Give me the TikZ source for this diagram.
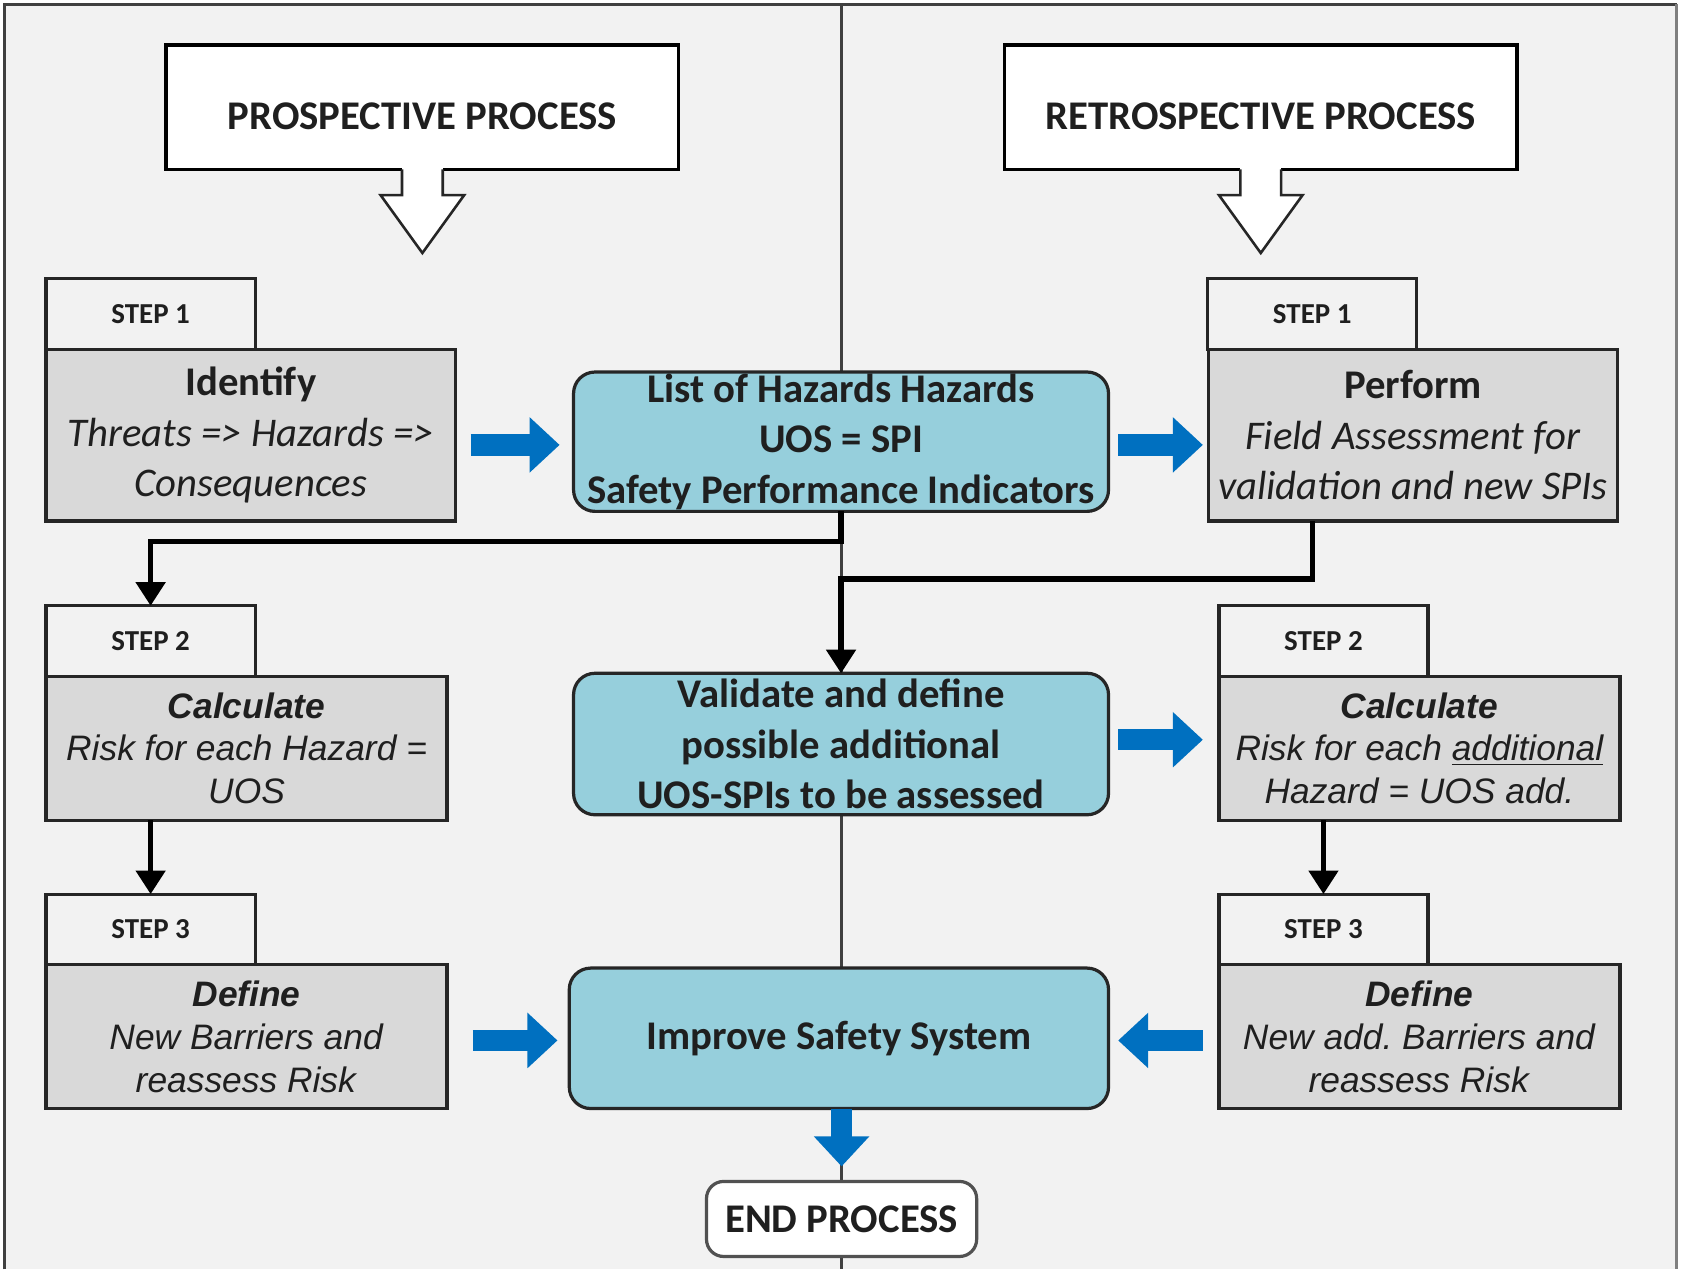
\documentclass[tikz,border=0pt]{standalone}
\usepackage{fontspec}
\setmainfont{Carlito}
\newfontfamily\arialfont{Liberation Sans}
\usetikzlibrary{arrows.meta,calc}
\frenchspacing

\definecolor{pagebg}{HTML}{F2F2F2}
\definecolor{stepgray}{HTML}{D9D9D9}
\definecolor{keyblue}{HTML}{96CFDC}
\definecolor{flowblue}{HTML}{0070C0}
\definecolor{edge}{HTML}{262626}
\definecolor{framegray}{HTML}{404040}
\definecolor{inktext}{HTML}{1F1F1F}

\newcommand{\bigtxt}{\fontsize{19pt}{23.5pt}\selectfont}
\newcommand{\armtxt}{\arialfont\fontsize{16.5pt}{20pt}\selectfont}

\begin{document}
\begin{tikzpicture}[x=0.5pt,y=-0.5pt,
  every node/.style={inner sep=0pt, outer sep=0pt, text=inktext},
  header/.style={draw=black, line width=1.6pt, fill=white,
    minimum width=239pt, minimum height=58pt},
  hdrtext/.style={font=\bfseries\bigtxt},
  hollow/.style={fill=white, draw=edge, line width=1.2pt, line join=miter},
  tab/.style={draw=edge, line width=1.5pt, fill=pagebg,
    minimum width=97.5pt, minimum height=33pt,
    font=\bfseries\fontsize{13.5pt}{16pt}\selectfont},
  stepbox/.style={draw=edge, line width=1.5pt, fill=stepgray, align=center},
  widebox/.style={stepbox, minimum width=191pt, minimum height=80pt, font=\bigtxt},
  armbox/.style={stepbox, minimum width=187pt, minimum height=67pt, font=\armtxt},
  keybox/.style={draw=edge, line width=1.5pt, fill=keyblue, rounded corners=10pt,
    minimum width=249.5pt, minimum height=65pt, align=center, font=\bfseries\bigtxt},
  endbox/.style={draw=edge!80, line width=1.5pt, fill=white, rounded corners=8pt,
    minimum width=126pt, minimum height=35pt, font=\bfseries\bigtxt},
  conn/.style={draw=black, line width=2.4pt, line join=miter,
    -{Triangle[length=11pt 0 0, width=13.5pt 0 0]}},
  flow/.style={draw=flowblue, line width=10pt,
    -{Triangle[length=14pt 0 0, width=25pt 0 0]}},
  sepline/.style={draw=framegray, line width=1.6pt}
]

% canvas and frame
\useasboundingbox (0,0) rectangle (1568,1184);
\fill[white] (0,0) rectangle (1568,1184);
\fill[pagebg] (4,4) rectangle (1564,1184);
\draw[framegray, line width=1.5pt] (4,1184) -- (4,4) -- (1564,4);
\draw[gray, line width=1.5pt] (1564,4) -- (1564,1184);

% middle separator
\coordinate (sepTop) at (785,4);
\coordinate (sepBot) at (785,1184);
\draw[sepline] (sepTop) -- (sepBot);

% process headers with hollow arrows
\node[header] (hdrL) at (394,100) {};
\node[hdrtext] (hdrLtxt) at (394,108) {PROSPECTIVE PROCESS};
\node[header] (hdrR) at (1176,100) {};
\node[hdrtext] (hdrRtxt) at (1176,108) {RETROSPECTIVE PROCESS};

\foreach \h in {hdrL,hdrR}{
  \coordinate (hs) at (\h.south);
  \fill[white] ($(hs)+(-19,-3)$) rectangle ($(hs)+(19,25)$);
  \fill[white] ($(hs)+(-39,24)$) -- ($(hs)+(0,78)$) -- ($(hs)+(39,24)$) -- cycle;
  \draw[hollow] ($(hs)+(-19,0)$) -- ($(hs)+(-19,24)$) -- ($(hs)+(-39,24)$)
    -- ($(hs)+(0,78)$) -- ($(hs)+(39,24)$) -- ($(hs)+(19,24)$) -- ($(hs)+(19,0)$);
}

% prospective column
\node[tab] (tab1L) at (140.5,293) {STEP 1};
\node[widebox] (ident) at (234,406)
  {\textbf{Identify}\\ \textit{Threats => Hazards =>}\\ \textit{Consequences}};
\node[tab] (tab2L) at (140.5,598) {STEP 2};
\node[armbox] (calcL) at (230,698)
  {\textbf{\textit{Calculate}}\\ \textit{Risk for each Hazard =}\\ \textit{UOS}};
\node[tab] (tab3L) at (140.5,867) {STEP 3};
\node[armbox] (defL) at (230,967)
  {\textbf{\textit{Define}}\\ \textit{New Barriers and}\\ \textit{reassess Risk}};

% retrospective column
\node[tab] (tab1R) at (1224,293) {STEP 1};
\node[widebox] (perform) at (1318,406)
  {\textbf{Perform}\\ \textit{Field Assessment for}\\ \textit{validation and new SPIs}};
\node[tab] (tab2R) at (1234.5,598) {STEP 2};
\node[armbox] (calcR) at (1324,698)
  {\textbf{\textit{Calculate}}\\ \textit{Risk for each \underline{additional}}\\ \textit{Hazard = UOS add.}};
\node[tab] (tab3R) at (1234.5,867) {STEP 3};
\node[armbox] (defR) at (1324,967)
  {\textbf{\textit{Define}}\\ \textit{New add. Barriers and}\\ \textit{reassess Risk}};

% shared central boxes
\node[keybox] (list) at (784.5,412)
  {List of Hazards Hazards\\ UOS = SPI\\ Safety Performance Indicators};
\node[keybox, minimum height=66pt] (validate) at (784.5,694)
  {Validate and define\\ possible additional\\ UOS-SPIs to be assessed};
\node[keybox, minimum width=251.5pt, minimum height=65.5pt] (improve) at (782.5,968.5)
  {Improve Safety System};
\node[endbox] (endp) at (785,1137) {END PROCESS};

% black connectors
\draw[conn] (list.south) -- ++(0,28) -| (tab2L.north);
\draw[conn] (tab1R.south |- perform.south) -- ++(0,54) -| (validate.north);
\draw[conn] (tab3L.north |- calcL.south) -- (tab3L.north);
\draw[conn] (tab3R.north |- calcR.south) -- (tab3R.north);

% blue flow arrows
\draw[flow] ($(ident.east |- list.west)+(14,3)$) -- ($(list.west)+(-13,3)$);
\draw[flow] ($(list.east)+(9,3)$) -- ($(perform.west |- list.east)+(-5,3)$);
\draw[flow] ($(validate.east)+(9,-4)$) -- ($(calcR.west |- validate.east)+(-15,-4)$);
\draw[flow] ($(defL.east |- improve.west)+(24,2)$) -- ($(improve.west)+(-11,2)$);
\draw[flow] ($(defR.west |- improve.east)+(-15,2)$) -- ($(improve.east)+(9,2)$);
\draw[flow] (endp.north |- improve.south) -- ($(endp.north)+(0,-14)$);

\end{tikzpicture}
\end{document}
